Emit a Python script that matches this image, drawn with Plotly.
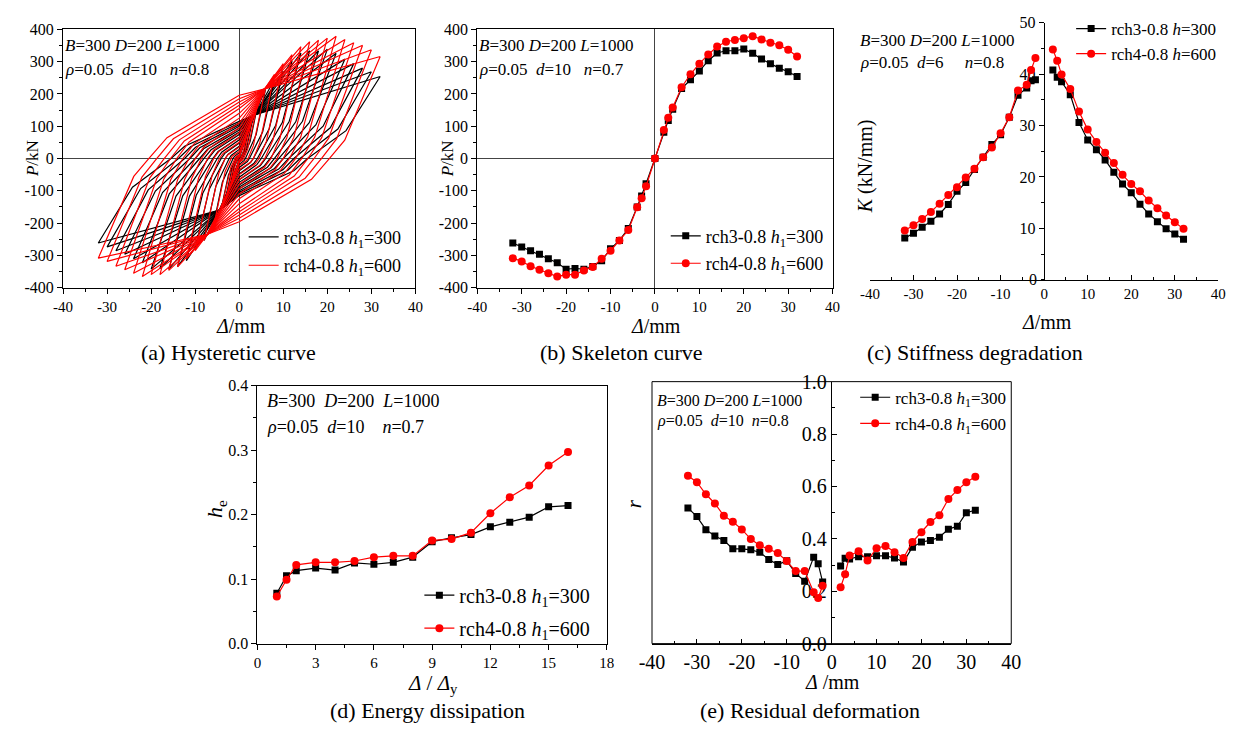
import plotly.graph_objects as go

W, H = 1248, 740
FONT = "Liberation Serif"
BLACK = "#000000"
RED = "#ff0000"


def px(x):
    return x / W


def py(y):
    return 1 - y / H


# ---------------- (b) skeleton curve ----------------
disp_skel = [-32, -30, -28, -26, -24, -22, -20, -18, -16, -14, -12, -10, -8, -6, -4, -3, -2, 0,
             2, 3, 4, 6, 8, 10, 12, 14, 16, 18, 20, 22, 24, 26, 28, 30, 32]
skel_rch3 = [-262, -274, -286, -297, -311, -323, -343, -341, -343, -335, -317, -280, -254, -217, -150, -116, -78, 0,
             81, 118, 153, 217, 244, 271, 303, 327, 334, 334, 339, 326, 308, 294, 280, 269, 254]
skel_rch4 = [-309, -319, -334, -345, -356, -366, -360, -360, -347, -336, -311, -286, -254, -222, -151, -123, -86, 0,
             88, 126, 158, 221, 261, 294, 322, 347, 362, 367, 373, 379, 369, 359, 351, 337, 316]

# ---------------- (a) hysteresis cycles ----------------
cycle_amp = [2, 3, 4, 6, 8, 10, 12, 14, 16, 18, 20, 22, 24, 26, 28, 30, 32]
# displacement where the unloading branch crosses P = 0
resid_rch3 = [0.2, 0.4, 0.7, 1.4, 2.3, 3.2, 4.1, 5.0, 6.0, 7.0, 8.0, 9.0, 10.0, 11.2, 12.4, 13.8, 15.5]
resid_rch4 = [0.3, 0.6, 1.0, 2.0, 3.2, 4.5, 5.8, 7.2, 8.6, 10.0, 11.4, 12.8, 14.2, 15.6, 17.0, 18.7, 20.5]
# force where the reloading branch crosses Δ = 0
icpt_rch3 = [3, 6, 10, 18, 28, 38, 48, 58, 66, 74, 82, 88, 94, 100, 105, 110, 115]
icpt_rch4 = [4, 8, 12, 22, 35, 50, 65, 80, 95, 110, 125, 140, 155, 165, 175, 185, 196]
# points that the reloading branches share: (Δ, P) on the positive and negative side
pinch_rch3 = ((3.5, 135), (-4.5, -160))
pinch_rch4 = ((5.8, 216), (-7.2, -235))
# unloading knee: (share of travel towards the residual point, share of peak force)
knee_rch3 = (0.47, 0.34)
knee_rch4 = (0.70, 0.18)

# ---------------- (c) stiffness degradation ----------------
disp_k_neg = [-32, -30, -28, -26, -24, -22, -20, -18, -16, -14, -12, -10, -8, -6, -4, -3, -2]
disp_k_pos = [2, 3, 4, 6, 8, 10, 12, 14, 16, 18, 20, 22, 24, 26, 28, 30, 32]
k_rch3_neg = [8.1, 9.05, 10.2, 11.4, 12.8, 14.65, 17.2, 18.9, 21.45, 23.8, 26.3, 28.2, 31.6, 35.9, 37.3, 38.7, 38.9]
k_rch4_neg = [9.6, 10.6, 11.8, 13.2, 14.8, 16.5, 18.0, 19.9, 21.6, 23.8, 25.7, 28.5, 31.6, 36.8, 37.9, 40.8, 43.1]
k_rch3_pos = [40.8, 39.4, 38.5, 36.0, 30.6, 27.2, 25.3, 23.3, 20.9, 18.6, 16.9, 14.7, 12.8, 11.3, 9.9, 8.9, 7.9]
k_rch4_pos = [44.8, 42.6, 39.9, 37.1, 32.7, 29.2, 26.8, 24.7, 22.7, 20.4, 18.6, 17.2, 15.4, 13.9, 12.5, 11.2, 9.9]

# ---------------- (d) energy dissipation ----------------
ductility = [1, 1.5, 2, 3, 4, 5, 6, 7, 8, 9, 10, 11, 12, 13, 14, 15, 16]
he_rch3 = [0.078, 0.105, 0.113, 0.117, 0.114, 0.125, 0.123, 0.126, 0.134, 0.158, 0.164, 0.169, 0.181,
           0.188, 0.196, 0.212, 0.214]
he_rch4 = [0.073, 0.099, 0.122, 0.126, 0.126, 0.128, 0.134, 0.136, 0.136, 0.160, 0.162, 0.172, 0.202,
           0.227, 0.245, 0.276, 0.297]

# ---------------- (e) residual deformation ----------------
r_rch3_neg = [0.518, 0.485, 0.435, 0.411, 0.394, 0.362, 0.362, 0.358, 0.349, 0.321, 0.302, 0.316, 0.268,
              0.238, 0.330, 0.305, 0.235]
r_rch4_neg = [0.641, 0.616, 0.570, 0.535, 0.488, 0.465, 0.436, 0.399, 0.375, 0.362, 0.346, 0.315, 0.277,
              0.277, 0.196, 0.174, 0.221]
r_rch3_pos = [0.296, 0.326, 0.323, 0.332, 0.332, 0.335, 0.335, 0.327, 0.312, 0.368, 0.388, 0.394, 0.406,
              0.437, 0.448, 0.500, 0.509]
r_rch4_pos = [0.215, 0.265, 0.336, 0.353, 0.317, 0.364, 0.373, 0.349, 0.327, 0.388, 0.425, 0.464, 0.490,
              0.552, 0.586, 0.616, 0.637]

# tick labels
ticks_pm40 = [-40, -30, -20, -10, 0, 10, 20, 30, 40]
ticks_pm400 = [-400, -300, -200, -100, 0, 100, 200, 300, 400]
ticks_k = [10, 20, 30, 40, 50]

LEG3 = "rch3-0.8 <i>h</i><sub>1</sub>=300"
LEG4 = "rch4-0.8 <i>h</i><sub>1</sub>=600"


def skel_at(series, d):
    return series[disp_skel.index(d)]


def hysteresis(skel, resid, icpt, knee, pinch):
    kx, kf = knee
    (cpx, cpy), (cnx, cny) = pinch
    xs, ys = [], []
    for d, r, f in zip(cycle_amp, resid, icpt):
        pp = skel_at(skel, d)
        pn = skel_at(skel, -d)
        dk = d - kx * (d - r)
        # unload from the positive peak, then load towards the negative peak
        pts = [(d, pp), (dk, kf * pp), (r, 0), (0.8 * r, -0.33 * f), (0, -f)]
        if d > abs(cnx) + 1:
            pts.append((cnx, cny))
        # unload from the negative peak, then reload towards the positive peak
        pts += [(-d, pn), (-dk, kf * pn), (-r, 0), (-0.8 * r, 0.33 * f), (0, f)]
        if d > cpx + 1:
            pts.append((cpx, cpy))
        pts.append((d, pp))
        xs += [p[0] for p in pts] + [None]
        ys += [p[1] for p in pts] + [None]
    return xs, ys


fig = go.Figure()

# (a)
hx3, hy3 = hysteresis(skel_rch3, resid_rch3, icpt_rch3, knee_rch3, pinch_rch3)
hx4, hy4 = hysteresis(skel_rch4, resid_rch4, icpt_rch4, knee_rch4, pinch_rch4)
fig.add_trace(go.Scatter(x=hx3, y=hy3, mode="lines", line=dict(color=BLACK, width=1.2),
                         name=LEG3, xaxis="x", yaxis="y", legend="legend", legendgroup="a3"))
fig.add_trace(go.Scatter(x=hx4, y=hy4, mode="lines", line=dict(color=RED, width=1.2),
                         name=LEG4, xaxis="x", yaxis="y", legend="legend", legendgroup="a4"))


def series(x, y, name, color, symbol, size, ax, leg, grp):
    fig.add_trace(go.Scatter(x=x, y=y, mode="lines+markers", name=name,
                             line=dict(color=color, width=1.2),
                             marker=dict(symbol=symbol, size=size, color=color),
                             xaxis="x" + ax, yaxis="y" + ax, legend=leg, legendgroup=grp))


# (b)
series(disp_skel, skel_rch3, LEG3, BLACK, "square", 7, "2", "legend2", "b3")
series(disp_skel, skel_rch4, LEG4, RED, "circle", 8, "2", "legend2", "b4")

# (c)
kx_all = disp_k_neg + [None] + disp_k_pos
series(kx_all, k_rch3_neg + [None] + k_rch3_pos, "rch3-0.8 <i>h</i>=300", BLACK, "square", 7, "3",
       "legend3", "c3")
series(kx_all, k_rch4_neg + [None] + k_rch4_pos, "rch4-0.8 <i>h</i>=600", RED, "circle", 8, "3",
       "legend3", "c4")

# (d)
series(ductility, he_rch3, LEG3, BLACK, "square", 7, "4", "legend4", "d3")
series(ductility, he_rch4, LEG4, RED, "circle", 8, "4", "legend4", "d4")

# (e)
series(kx_all, r_rch3_neg + [None] + r_rch3_pos, LEG3, BLACK, "square", 7, "5", "legend5", "e3")
series(kx_all, r_rch4_neg + [None] + r_rch4_pos, LEG4, RED, "circle", 8, "5", "legend5", "e4")


def tfont(size=16):
    return dict(family=FONT, size=size, color=BLACK)


def plain(vals):
    return [str(v) for v in vals]


def box_axis(domain, rng, dtick, mdtick, fontsize=16, zero=False, **kw):
    d = dict(domain=domain, range=rng, dtick=dtick, tick0=0, showgrid=False, showline=True,
             linecolor=BLACK, linewidth=1, mirror=True, ticks="outside", ticklen=5, tickwidth=1,
             tickcolor=BLACK, tickfont=tfont(fontsize),
             minor=dict(dtick=mdtick, ticks="outside", ticklen=3, tickcolor=BLACK, showgrid=False),
             zeroline=zero, zerolinecolor="#444444", zerolinewidth=1)
    d.update(kw)
    return d


def inside_minor(mdtick):
    return dict(dtick=mdtick, ticks="inside", ticklen=3, tickcolor=BLACK, showgrid=False)


xt = dict(tickmode="array", tickvals=ticks_pm40, ticktext=plain(ticks_pm40))
yt = dict(tickmode="array", tickvals=ticks_pm400, ticktext=plain(ticks_pm400))

layout = dict(
    width=W, height=H, margin=dict(l=0, r=0, t=0, b=0),
    paper_bgcolor="white", plot_bgcolor="white", showlegend=True,
    font=dict(family=FONT, color=BLACK),
    # (a)
    xaxis=box_axis([px(51), px(410)], [-40, 40], 10, 5, fontsize=15, zero=True, anchor="y", **xt),
    yaxis=box_axis([py(285), py(19)], [-400, 400], 100, 50, zero=True, anchor="x", **yt),
    # (b)
    xaxis2=box_axis([px(473), px(835)], [-40, 40], 10, 5, fontsize=15, zero=True, anchor="y2", **xt),
    yaxis2=box_axis([py(285), py(19)], [-400, 400], 100, 50, zero=True, anchor="x2", **yt),
    # (c)
    xaxis3=box_axis([px(873), px(1228)], [-40, 40], 10, 5, fontsize=15, anchor="y3", mirror=False,
                    ticks="inside", minor=inside_minor(5), **xt),
    yaxis3=box_axis([py(277), py(12)], [0, 50], 10, 5, anchor="free", position=px(1050), mirror=False,
                    layer="below traces", tickmode="array", tickvals=ticks_k, ticktext=plain(ticks_k)),
    # (d)
    xaxis4=box_axis([px(249), px(605)], [0, 18], 3, 1.5, fontsize=15, anchor="y4"),
    yaxis4=box_axis([py(652), py(386)], [0, 0.4], 0.1, 0.05, anchor="x4", tickformat=".1f"),
    # (e)
    xaxis5=box_axis([px(651), px(1017)], [-40, 40], 10, 5, fontsize=20, anchor="y5", mirror=False,
                    ticks="inside", minor=inside_minor(5), **xt),
    yaxis5=box_axis([py(652), py(382)], [0, 1], 0.2, 0.1, fontsize=20, anchor="free", position=px(833),
                    mirror=False, tickformat=".1f", ticks="inside", layer="below traces",
                    minor=inside_minor(0.1)),
)


def legend_at(x, y, size, gap):
    return dict(x=px(x), y=py(y), xanchor="left", yanchor="top", bgcolor="rgba(0,0,0,0)",
                borderwidth=0, font=tfont(size), itemwidth=30, traceorder="grouped",
                tracegroupgap=gap)


layout["legend"] = legend_at(235, 214, 18, 2)
layout["legend2"] = legend_at(665, 213, 18, 1)
layout["legend3"] = legend_at(1078, 0, 17, 0)
layout["legend4"] = legend_at(414, 582, 20, 4)
layout["legend5"] = legend_at(858, 380, 17, 1)
fig.update_layout(**layout)

ann = []


def text(x, y, s, size, anchor="left", angle=0):
    ann.append(dict(x=px(x), y=py(y), xref="paper", yref="paper", text=s, showarrow=False,
                    xanchor=anchor, yanchor="middle", align=anchor,
                    textangle=angle, font=tfont(size), borderpad=0))


SP = "\u00a0"
line1 = "<i>B</i>=300 <i>D</i>=200 <i>L</i>=1000"
text(52, 36, line1, 17)
text(52, 60, f"<i>ρ</i>=0.05{SP*2}<i>d</i>=10{SP*3}<i>n</i>=0.8", 17)
text(474, 36, line1, 17)
text(474, 60, f"<i>ρ</i>=0.05{SP*2}<i>d</i>=10{SP*3}<i>n</i>=0.7", 17)
text(862, 30, line1, 17)
text(862, 53, f"<i>ρ</i>=0.05{SP*2}<i>d</i>=6{SP*5}<i>n</i>=0.8", 17)
text(258, 402, f"<i>B</i>=300{SP*2}<i>D</i>=200{SP*2}<i>L</i>=1000", 18)
text(258, 429, f"<i>ρ</i>=0.05{SP*2}<i>d</i>=10{SP*4}<i>n</i>=0.7", 18)
text(655, 401, line1, 16)
text(655, 423, f"<i>ρ</i>=0.05{SP*2}<i>d</i>=10{SP*2}<i>n</i>=0.8", 16)

# zero label on the stiffness axis
text(1044, 277, "0", 16, "right")

# axis titles
text(232, 325, "<i>Δ</i>/mm", 20, "center")
text(20, 152, "<i>P</i>/kN", 17, "center", -90)
text(655, 325, "<i>Δ</i>/mm", 20, "center")
text(443, 152, "<i>P</i>/kN", 17, "center", -90)
text(1053, 321, "<i>Δ</i>/mm", 20, "center")
text(868, 160, "<i>K</i> (kN/mm)", 20, "center", -90)
text(428, 694, "<i>Δ</i> / <i>Δ</i><sub>y</sub>", 21, "center")
text(207, 513, "<i>h</i><sub>e</sub>", 22, "center", -90)
text(835, 692, "<i>Δ</i> /mm", 20, "center")
text(633, 508, "<i>r</i>", 21, "center", -90)

# captions
text(220, 352, "(a) Hysteretic curve", 22, "center")
text(620, 352, "(b) Skeleton curve", 22, "center")
text(980, 352, "(c) Stiffness degradation", 22, "center")
text(422, 721, "(d) Energy dissipation", 22, "center")
text(812, 721, "(e) Residual deformation", 22, "center")

fig.update_layout(annotations=ann)
fig.add_shape(type="rect", xref="x5 domain", yref="y5 domain", x0=0, x1=1, y0=0, y1=1,
              line=dict(color=BLACK, width=1), layer="above")

fig.write_html("out.html")
